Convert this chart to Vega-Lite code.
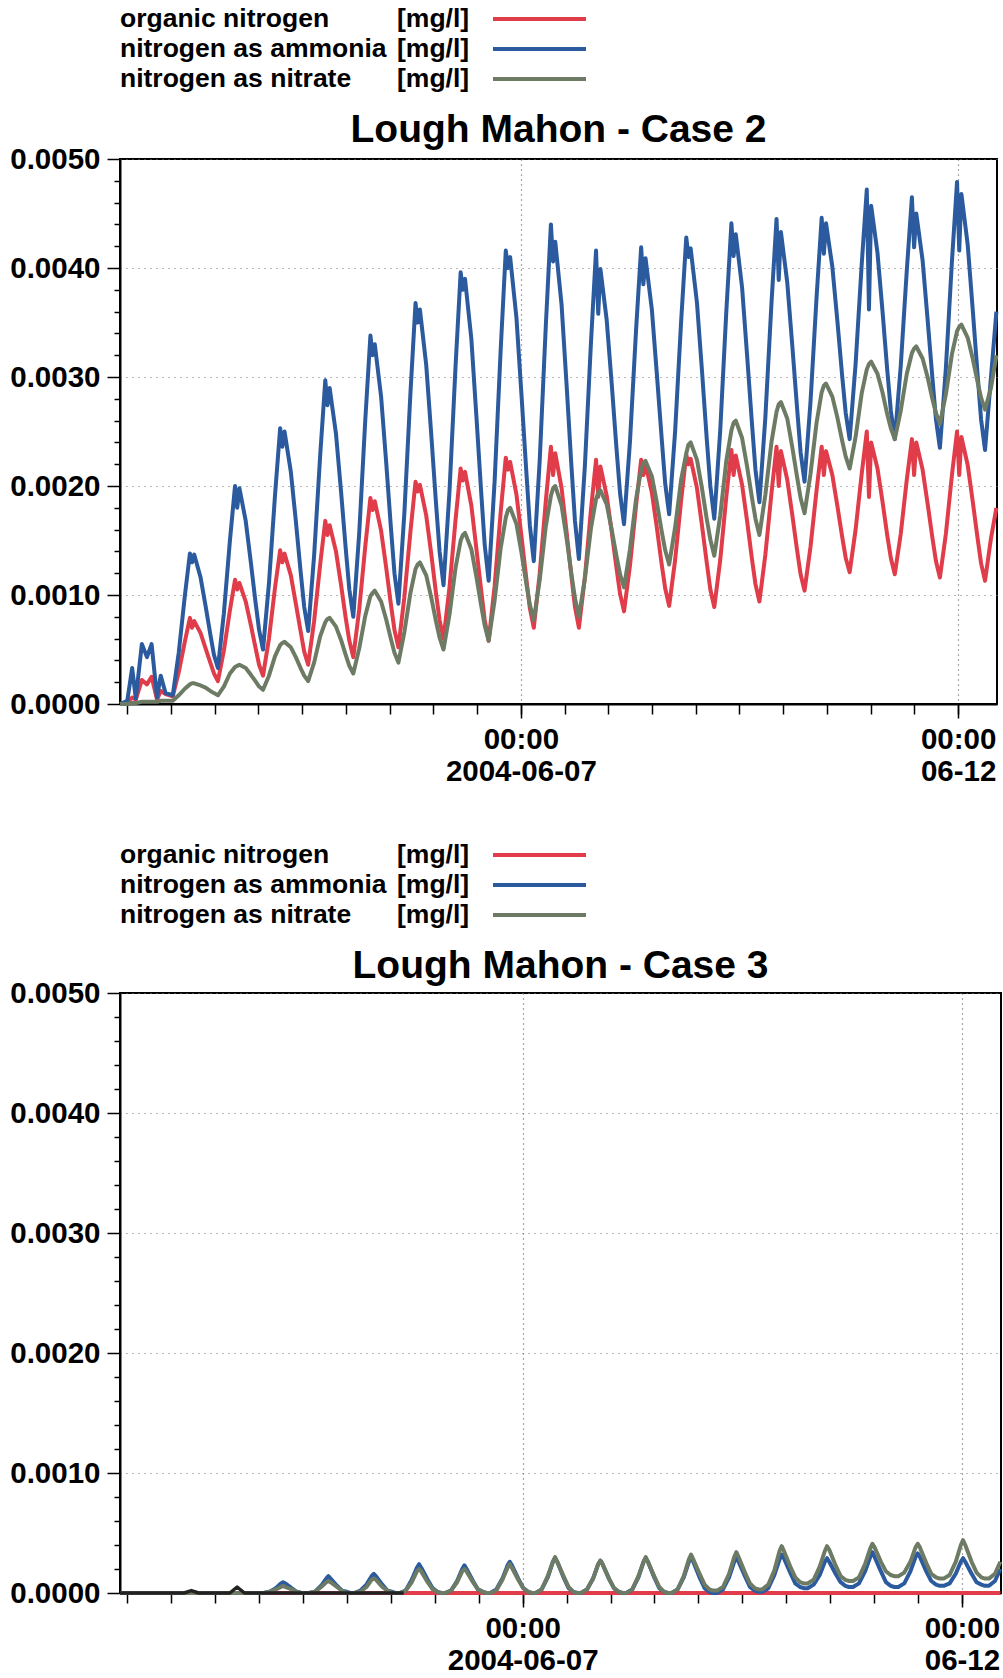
{
"$schema": "https://vega.github.io/schema/vega-lite/v6.json",
"background": "white",
"padding": {"left": 8, "top": 4, "right": 0, "bottom": 0},
"config": {"view": {"stroke": "black", "strokeWidth": 2}, "font": "Liberation Sans"},
"resolve": {"scale": {"color": "independent"}},
"datasets": {
"legend": [
{"series": "organic nitrogen", "unit": "[mg/l]"},
{"series": "nitrogen as ammonia", "unit": "[mg/l]"},
{"series": "nitrogen as nitrate", "unit": "[mg/l]"}
],
"other3": [
{"t":"2004-06-02T10:00","v":0},
{"t":"2004-06-03T03:30","v":0},
{"t":"2004-06-03T05:30","v":0.00002},
{"t":"2004-06-03T07:30","v":0},
{"t":"2004-06-03T16:00","v":0},
{"t":"2004-06-03T18:00","v":0.00005},
{"t":"2004-06-03T20:00","v":0},
{"t":"2004-06-05T15:30","v":0}
],
"tides": [
{"t":"2004-06-02T10:00","o2":0,"a2":0,"n2":0,"o3":0,"a3":0,"n3":0},
{"t":"2004-06-02T12:00","o2":0.00001,"a2":0.00003,"n2":0,"o3":0,"a3":0,"n3":0},
{"t":"2004-06-02T13:20","o2":0.00006,"a2":0.00033,"n2":0.00001,"o3":0,"a3":0,"n3":0},
{"t":"2004-06-02T14:20","o2":0.00004,"a2":0.00005,"n2":0.00001,"o3":0,"a3":0,"n3":0},
{"t":"2004-06-02T16:00","o2":0.00022,"a2":0.00055,"n2":0.00002,"o3":0,"a3":0,"n3":0},
{"t":"2004-06-02T17:24","o2":0.00018,"a2":0.00043,"n2":0.00002,"o3":0,"a3":0,"n3":0},
{"t":"2004-06-02T18:40","o2":0.00025,"a2":0.00055,"n2":0.00002,"o3":0,"a3":0,"n3":0},
{"t":"2004-06-02T20:10","o2":0.00004,"a2":0.00006,"n2":0.00002,"o3":0,"a3":0,"n3":0},
{"t":"2004-06-02T21:10","o2":0.00012,"a2":0.00026,"n2":0.00003,"o3":0,"a3":0,"n3":0},
{"t":"2004-06-02T22:30","o2":0.00009,"a2":0.0001,"n2":0.00003,"o3":0,"a3":0,"n3":0},
{"t":"2004-06-03T00:29","o2":0.00007,"a2":0.00008,"n2":0.00003,"o3":0,"a3":0,"n3":0},
{"t":"2004-06-03T02:07","o2":0.00029,"a2":0.00047,"n2":0.00008,"o3":0,"a3":0,"n3":0},
{"t":"2004-06-03T03:47","o2":0.00057,"a2":0.00099,"n2":0.00014,"o3":0,"a3":0,"n3":0},
{"t":"2004-06-03T05:11","o2":0.00079,"a2":0.00138,"n2":0.00018,"o3":0,"a3":0,"n3":0},
{"t":"2004-06-03T05:47","o2":0.0007,"a2":0.0013,"n2":0.00019,"o3":0,"a3":0,"n3":0},
{"t":"2004-06-03T06:23","o2":0.00076,"a2":0.00137,"n2":0.00019,"o3":0,"a3":0,"n3":0},
{"t":"2004-06-03T08:07","o2":0.00065,"a2":0.00116,"n2":0.00017,"o3":0,"a3":0,"n3":0},
{"t":"2004-06-03T09:29","o2":0.00051,"a2":0.0009,"n2":0.00015,"o3":0,"a3":0,"n3":0},
{"t":"2004-06-03T10:47","o2":0.00038,"a2":0.00064,"n2":0.00012,"o3":0,"a3":0,"n3":0},
{"t":"2004-06-03T11:47","o2":0.00028,"a2":0.00045,"n2":0.0001,"o3":0,"a3":0,"n3":0},
{"t":"2004-06-03T12:52","o2":0.00021,"a2":0.00033,"n2":0.00008,"o3":0,"a3":0,"n3":0},
{"t":"2004-06-03T14:30","o2":0.00049,"a2":0.00083,"n2":0.00016,"o3":0,"a3":0,"n3":0},
{"t":"2004-06-03T16:10","o2":0.00086,"a2":0.0015,"n2":0.00028,"o3":0,"a3":0,"n3":0},
{"t":"2004-06-03T17:34","o2":0.00114,"a2":0.002,"n2":0.00034,"o3":0,"a3":0,"n3":0},
{"t":"2004-06-03T18:10","o2":0.00105,"a2":0.0018,"n2":0.00035,"o3":0,"a3":0,"n3":0},
{"t":"2004-06-03T18:46","o2":0.00111,"a2":0.00198,"n2":0.00036,"o3":0,"a3":0,"n3":0},
{"t":"2004-06-03T20:30","o2":0.00094,"a2":0.00168,"n2":0.00033,"o3":0,"a3":0,"n3":0},
{"t":"2004-06-03T21:52","o2":0.00073,"a2":0.00131,"n2":0.00027,"o3":0,"a3":0,"n3":0},
{"t":"2004-06-03T23:10","o2":0.00052,"a2":0.00094,"n2":0.00021,"o3":0,"a3":0,"n3":0},
{"t":"2004-06-04T00:10","o2":0.00036,"a2":0.00068,"n2":0.00016,"o3":0,"a3":0,"n3":0},
{"t":"2004-06-04T01:15","o2":0.00026,"a2":0.0005,"n2":0.00013,"o3":0,"a3":0,"n3":0},
{"t":"2004-06-04T02:53","o2":0.0006,"a2":0.00111,"n2":0.00026,"o3":0,"a3":0.00001,"n3":0.00001},
{"t":"2004-06-04T04:33","o2":0.00107,"a2":0.00192,"n2":0.00044,"o3":0,"a3":0.00004,"n3":0.00003},
{"t":"2004-06-04T05:57","o2":0.00141,"a2":0.00253,"n2":0.00054,"o3":0,"a3":0.00008,"n3":0.00005},
{"t":"2004-06-04T06:33","o2":0.0013,"a2":0.00236,"n2":0.00056,"o3":0,"a3":0.00009,"n3":0.00006},
{"t":"2004-06-04T07:09","o2":0.00138,"a2":0.0025,"n2":0.00057,"o3":0,"a3":0.00008,"n3":0.00005},
{"t":"2004-06-04T08:53","o2":0.00118,"a2":0.00213,"n2":0.00052,"o3":0,"a3":0.00004,"n3":0.00003},
{"t":"2004-06-04T10:15","o2":0.00092,"a2":0.00168,"n2":0.00043,"o3":0,"a3":0.00001,"n3":0.00001},
{"t":"2004-06-04T11:33","o2":0.00067,"a2":0.00122,"n2":0.00033,"o3":0,"a3":0,"n3":0},
{"t":"2004-06-04T12:33","o2":0.00048,"a2":0.00089,"n2":0.00026,"o3":0,"a3":0,"n3":0},
{"t":"2004-06-04T13:38","o2":0.00036,"a2":0.00067,"n2":0.00021,"o3":0,"a3":0,"n3":0},
{"t":"2004-06-04T15:16","o2":0.00076,"a2":0.00136,"n2":0.00038,"o3":0,"a3":0.00001,"n3":0.00001},
{"t":"2004-06-04T16:56","o2":0.00128,"a2":0.00228,"n2":0.00062,"o3":0,"a3":0.00006,"n3":0.00005},
{"t":"2004-06-04T18:20","o2":0.00168,"a2":0.00297,"n2":0.00075,"o3":0,"a3":0.00012,"n3":0.00009},
{"t":"2004-06-04T18:56","o2":0.00155,"a2":0.00274,"n2":0.00078,"o3":0,"a3":0.00014,"n3":0.0001},
{"t":"2004-06-04T19:32","o2":0.00164,"a2":0.0029,"n2":0.00079,"o3":0,"a3":0.00012,"n3":0.00009},
{"t":"2004-06-04T21:16","o2":0.0014,"a2":0.00248,"n2":0.00071,"o3":0,"a3":0.00006,"n3":0.00005},
{"t":"2004-06-04T22:38","o2":0.0011,"a2":0.00196,"n2":0.00059,"o3":0,"a3":0.00002,"n3":0.00002},
{"t":"2004-06-04T23:56","o2":0.00079,"a2":0.00143,"n2":0.00045,"o3":0,"a3":0.00001,"n3":0},
{"t":"2004-06-05T00:56","o2":0.00058,"a2":0.00105,"n2":0.00035,"o3":0,"a3":0,"n3":0},
{"t":"2004-06-05T02:01","o2":0.00043,"a2":0.0008,"n2":0.00028,"o3":0,"a3":0,"n3":0},
{"t":"2004-06-05T03:39","o2":0.00087,"a2":0.00157,"n2":0.00051,"o3":0,"a3":0.00002,"n3":0.00001},
{"t":"2004-06-05T05:19","o2":0.00145,"a2":0.00261,"n2":0.00081,"o3":0,"a3":0.00007,"n3":0.00005},
{"t":"2004-06-05T06:43","o2":0.00189,"a2":0.00338,"n2":0.00099,"o3":0,"a3":0.00014,"n3":0.00011},
{"t":"2004-06-05T07:19","o2":0.00178,"a2":0.0032,"n2":0.00102,"o3":0,"a3":0.00016,"n3":0.00012},
{"t":"2004-06-05T07:55","o2":0.00186,"a2":0.0033,"n2":0.00104,"o3":0,"a3":0.00014,"n3":0.00011},
{"t":"2004-06-05T09:39","o2":0.00159,"a2":0.00282,"n2":0.00094,"o3":0,"a3":0.00007,"n3":0.00005},
{"t":"2004-06-05T11:01","o2":0.00126,"a2":0.00223,"n2":0.00078,"o3":0,"a3":0.00002,"n3":0.00002},
{"t":"2004-06-05T12:19","o2":0.00092,"a2":0.00163,"n2":0.0006,"o3":0,"a3":0.00001,"n3":0},
{"t":"2004-06-05T13:19","o2":0.00068,"a2":0.0012,"n2":0.00047,"o3":0,"a3":0,"n3":0},
{"t":"2004-06-05T14:24","o2":0.00052,"a2":0.00092,"n2":0.00038,"o3":0,"a3":0,"n3":0},
{"t":"2004-06-05T16:02","o2":0.00098,"a2":0.00175,"n2":0.00066,"o3":0,"a3":0.00002,"n3":0.00002},
{"t":"2004-06-05T17:42","o2":0.00158,"a2":0.00285,"n2":0.00102,"o3":0,"a3":0.00011,"n3":0.00009},
{"t":"2004-06-05T19:06","o2":0.00204,"a2":0.00368,"n2":0.00124,"o3":0,"a3":0.00021,"n3":0.00018},
{"t":"2004-06-05T19:42","o2":0.00195,"a2":0.0035,"n2":0.00128,"o3":0,"a3":0.00024,"n3":0.0002},
{"t":"2004-06-05T20:18","o2":0.00201,"a2":0.00362,"n2":0.0013,"o3":0,"a3":0.00021,"n3":0.00018},
{"t":"2004-06-05T22:02","o2":0.00173,"a2":0.00311,"n2":0.00118,"o3":0,"a3":0.00011,"n3":0.00009},
{"t":"2004-06-05T23:24","o2":0.00138,"a2":0.00248,"n2":0.00098,"o3":0,"a3":0.00004,"n3":0.00003},
{"t":"2004-06-06T00:42","o2":0.00102,"a2":0.00185,"n2":0.00076,"o3":0,"a3":0.00001,"n3":0.00001},
{"t":"2004-06-06T01:42","o2":0.00077,"a2":0.0014,"n2":0.00061,"o3":0,"a3":0,"n3":0},
{"t":"2004-06-06T02:47","o2":0.0006,"a2":0.00109,"n2":0.0005,"o3":0,"a3":0,"n3":0},
{"t":"2004-06-06T04:25","o2":0.00107,"a2":0.00195,"n2":0.00082,"o3":0,"a3":0.00002,"n3":0.00002},
{"t":"2004-06-06T06:05","o2":0.00169,"a2":0.0031,"n2":0.00125,"o3":0,"a3":0.0001,"n3":0.00009},
{"t":"2004-06-06T07:29","o2":0.00216,"a2":0.00396,"n2":0.0015,"o3":0,"a3":0.0002,"n3":0.00018},
{"t":"2004-06-06T08:05","o2":0.00205,"a2":0.0038,"n2":0.00155,"o3":0,"a3":0.00023,"n3":0.0002},
{"t":"2004-06-06T08:41","o2":0.00213,"a2":0.0039,"n2":0.00157,"o3":0,"a3":0.0002,"n3":0.00018},
{"t":"2004-06-06T10:25","o2":0.00182,"a2":0.00335,"n2":0.00142,"o3":0,"a3":0.0001,"n3":0.00009},
{"t":"2004-06-06T11:47","o2":0.00143,"a2":0.00265,"n2":0.00117,"o3":0,"a3":0.00003,"n3":0.00003},
{"t":"2004-06-06T13:05","o2":0.00105,"a2":0.00196,"n2":0.00091,"o3":0,"a3":0.00001,"n3":0.00001},
{"t":"2004-06-06T14:05","o2":0.00077,"a2":0.00146,"n2":0.00072,"o3":0,"a3":0,"n3":0},
{"t":"2004-06-06T15:10","o2":0.00058,"a2":0.00113,"n2":0.00058,"o3":0,"a3":0,"n3":0},
{"t":"2004-06-06T16:48","o2":0.00108,"a2":0.00204,"n2":0.00095,"o3":0,"a3":0.00003,"n3":0.00002},
{"t":"2004-06-06T18:28","o2":0.00176,"a2":0.00325,"n2":0.00143,"o3":0,"a3":0.00012,"n3":0.00011},
{"t":"2004-06-06T19:52","o2":0.00226,"a2":0.00416,"n2":0.00171,"o3":0,"a3":0.00023,"n3":0.00021},
{"t":"2004-06-06T20:28","o2":0.00215,"a2":0.004,"n2":0.00178,"o3":0,"a3":0.00026,"n3":0.00024},
{"t":"2004-06-06T21:04","o2":0.00222,"a2":0.0041,"n2":0.0018,"o3":0,"a3":0.00023,"n3":0.00021},
{"t":"2004-06-06T22:48","o2":0.00192,"a2":0.00354,"n2":0.00165,"o3":0,"a3":0.00012,"n3":0.00011},
{"t":"2004-06-07T00:10","o2":0.00154,"a2":0.00284,"n2":0.00139,"o3":0,"a3":0.00004,"n3":0.00004},
{"t":"2004-06-07T01:28","o2":0.00116,"a2":0.00215,"n2":0.00111,"o3":0,"a3":0.00001,"n3":0.00001},
{"t":"2004-06-07T02:28","o2":0.00088,"a2":0.00164,"n2":0.00091,"o3":0,"a3":0,"n3":0},
{"t":"2004-06-07T03:33","o2":0.0007,"a2":0.00131,"n2":0.00077,"o3":0,"a3":0,"n3":0},
{"t":"2004-06-07T05:11","o2":0.0012,"a2":0.00224,"n2":0.00114,"o3":0,"a3":0.00003,"n3":0.00003},
{"t":"2004-06-07T06:51","o2":0.00186,"a2":0.00347,"n2":0.00163,"o3":0,"a3":0.00013,"n3":0.00014},
{"t":"2004-06-07T08:15","o2":0.00236,"a2":0.0044,"n2":0.00191,"o3":0,"a3":0.00026,"n3":0.00026},
{"t":"2004-06-07T08:51","o2":0.0021,"a2":0.00406,"n2":0.00198,"o3":0,"a3":0.00029,"n3":0.0003},
{"t":"2004-06-07T09:27","o2":0.0023,"a2":0.00424,"n2":0.002,"o3":0,"a3":0.00026,"n3":0.00026},
{"t":"2004-06-07T11:11","o2":0.00198,"a2":0.00366,"n2":0.00182,"o3":0,"a3":0.00013,"n3":0.00014},
{"t":"2004-06-07T12:33","o2":0.00158,"a2":0.00293,"n2":0.00152,"o3":0,"a3":0.00004,"n3":0.00005},
{"t":"2004-06-07T13:51","o2":0.00118,"a2":0.0022,"n2":0.0012,"o3":0,"a3":0.00001,"n3":0.00001},
{"t":"2004-06-07T14:51","o2":0.00089,"a2":0.00168,"n2":0.00097,"o3":0,"a3":0,"n3":0},
{"t":"2004-06-07T15:56","o2":0.0007,"a2":0.00133,"n2":0.0008,"o3":0,"a3":0,"n3":0},
{"t":"2004-06-07T17:34","o2":0.00116,"a2":0.00218,"n2":0.00115,"o3":0,"a3":0.00003,"n3":0.00003},
{"t":"2004-06-07T19:14","o2":0.00178,"a2":0.00331,"n2":0.00161,"o3":0,"a3":0.00012,"n3":0.00012},
{"t":"2004-06-07T20:38","o2":0.00224,"a2":0.00416,"n2":0.00188,"o3":0,"a3":0.00024,"n3":0.00024},
{"t":"2004-06-07T21:14","o2":0.0019,"a2":0.00358,"n2":0.00194,"o3":0,"a3":0.00027,"n3":0.00027},
{"t":"2004-06-07T21:50","o2":0.00218,"a2":0.00399,"n2":0.00196,"o3":0,"a3":0.00024,"n3":0.00024},
{"t":"2004-06-07T23:34","o2":0.00191,"a2":0.00352,"n2":0.00183,"o3":0,"a3":0.00012,"n3":0.00012},
{"t":"2004-06-08T00:56","o2":0.00158,"a2":0.00294,"n2":0.0016,"o3":0,"a3":0.00004,"n3":0.00004},
{"t":"2004-06-08T02:14","o2":0.00125,"a2":0.00235,"n2":0.00136,"o3":0,"a3":0.00001,"n3":0.00001},
{"t":"2004-06-08T03:14","o2":0.00101,"a2":0.00193,"n2":0.00119,"o3":0,"a3":0,"n3":0},
{"t":"2004-06-08T04:19","o2":0.00085,"a2":0.00165,"n2":0.00107,"o3":0,"a3":0,"n3":0},
{"t":"2004-06-08T05:57","o2":0.00127,"a2":0.00241,"n2":0.00142,"o3":0,"a3":0.00003,"n3":0.00003},
{"t":"2004-06-08T07:37","o2":0.00182,"a2":0.00343,"n2":0.00188,"o3":0,"a3":0.00013,"n3":0.00014},
{"t":"2004-06-08T09:01","o2":0.00224,"a2":0.00419,"n2":0.00215,"o3":0,"a3":0.00026,"n3":0.00026},
{"t":"2004-06-08T09:37","o2":0.0021,"a2":0.00385,"n2":0.00221,"o3":0,"a3":0.00029,"n3":0.0003},
{"t":"2004-06-08T10:13","o2":0.0022,"a2":0.00409,"n2":0.00223,"o3":0,"a3":0.00026,"n3":0.00026},
{"t":"2004-06-08T11:57","o2":0.00194,"a2":0.00362,"n2":0.00209,"o3":0,"a3":0.00013,"n3":0.00014},
{"t":"2004-06-08T13:19","o2":0.00162,"a2":0.00303,"n2":0.00185,"o3":0,"a3":0.00004,"n3":0.00005},
{"t":"2004-06-08T14:37","o2":0.00129,"a2":0.00245,"n2":0.00159,"o3":0,"a3":0.00001,"n3":0.00001},
{"t":"2004-06-08T15:37","o2":0.00106,"a2":0.00202,"n2":0.00141,"o3":0,"a3":0,"n3":0},
{"t":"2004-06-08T16:42","o2":0.0009,"a2":0.00174,"n2":0.00128,"o3":0,"a3":0,"n3":0},
{"t":"2004-06-08T18:20","o2":0.00132,"a2":0.0025,"n2":0.00162,"o3":0,"a3":0.00003,"n3":0.00003},
{"t":"2004-06-08T20:00","o2":0.00187,"a2":0.00352,"n2":0.00206,"o3":0,"a3":0.00013,"n3":0.00014},
{"t":"2004-06-08T21:24","o2":0.00229,"a2":0.00428,"n2":0.0023,"o3":0,"a3":0.00026,"n3":0.00028},
{"t":"2004-06-08T22:00","o2":0.0022,"a2":0.0041,"n2":0.00238,"o3":0,"a3":0.00029,"n3":0.00032},
{"t":"2004-06-08T22:36","o2":0.00225,"a2":0.00418,"n2":0.0024,"o3":0,"a3":0.00026,"n3":0.00028},
{"t":"2004-06-09T00:20","o2":0.00198,"a2":0.00368,"n2":0.00224,"o3":0,"a3":0.00013,"n3":0.00016},
{"t":"2004-06-09T01:42","o2":0.00164,"a2":0.00306,"n2":0.00198,"o3":0,"a3":0.00004,"n3":0.00007},
{"t":"2004-06-09T03:00","o2":0.0013,"a2":0.00244,"n2":0.0017,"o3":0,"a3":0.00001,"n3":0.00003},
{"t":"2004-06-09T04:00","o2":0.00105,"a2":0.002,"n2":0.00151,"o3":0,"a3":0,"n3":0.00002},
{"t":"2004-06-09T05:05","o2":0.00089,"a2":0.0017,"n2":0.00136,"o3":0,"a3":0,"n3":0.00002},
{"t":"2004-06-09T06:43","o2":0.00132,"a2":0.00251,"n2":0.00173,"o3":0,"a3":0.00003,"n3":0.00005},
{"t":"2004-06-09T08:23","o2":0.0019,"a2":0.0036,"n2":0.00223,"o3":0,"a3":0.00013,"n3":0.00016},
{"t":"2004-06-09T09:47","o2":0.00233,"a2":0.00441,"n2":0.00251,"o3":0,"a3":0.00026,"n3":0.0003},
{"t":"2004-06-09T10:23","o2":0.0021,"a2":0.00411,"n2":0.00258,"o3":0,"a3":0.00029,"n3":0.00034},
{"t":"2004-06-09T10:59","o2":0.00228,"a2":0.00431,"n2":0.0026,"o3":0,"a3":0.00026,"n3":0.0003},
{"t":"2004-06-09T12:43","o2":0.00201,"a2":0.00382,"n2":0.00244,"o3":0,"a3":0.00014,"n3":0.00017},
{"t":"2004-06-09T14:05","o2":0.00168,"a2":0.0032,"n2":0.00218,"o3":0,"a3":0.00005,"n3":0.00008},
{"t":"2004-06-09T15:23","o2":0.00134,"a2":0.00259,"n2":0.0019,"o3":0,"a3":0.00002,"n3":0.00004},
{"t":"2004-06-09T16:23","o2":0.0011,"a2":0.00215,"n2":0.0017,"o3":0,"a3":0.00001,"n3":0.00003},
{"t":"2004-06-09T17:28","o2":0.00094,"a2":0.00185,"n2":0.00155,"o3":0,"a3":0.00001,"n3":0.00003},
{"t":"2004-06-09T19:06","o2":0.00137,"a2":0.00263,"n2":0.00192,"o3":0,"a3":0.00004,"n3":0.00007},
{"t":"2004-06-09T20:46","o2":0.00193,"a2":0.00367,"n2":0.0024,"o3":0,"a3":0.00015,"n3":0.00019},
{"t":"2004-06-09T22:10","o2":0.00236,"a2":0.00445,"n2":0.00268,"o3":0,"a3":0.00028,"n3":0.00035},
{"t":"2004-06-09T22:46","o2":0.002,"a2":0.00389,"n2":0.00275,"o3":0,"a3":0.00032,"n3":0.00039},
{"t":"2004-06-09T23:22","o2":0.00232,"a2":0.00433,"n2":0.00277,"o3":0,"a3":0.00029,"n3":0.00035},
{"t":"2004-06-10T01:06","o2":0.00206,"a2":0.00387,"n2":0.00262,"o3":0,"a3":0.00017,"n3":0.00022},
{"t":"2004-06-10T02:28","o2":0.00174,"a2":0.0033,"n2":0.00236,"o3":0,"a3":0.00008,"n3":0.00013},
{"t":"2004-06-10T03:46","o2":0.00142,"a2":0.00273,"n2":0.00209,"o3":0,"a3":0.00005,"n3":0.00009},
{"t":"2004-06-10T04:46","o2":0.00119,"a2":0.00231,"n2":0.00189,"o3":0,"a3":0.00004,"n3":0.00008},
{"t":"2004-06-10T05:51","o2":0.00104,"a2":0.00204,"n2":0.00175,"o3":0,"a3":0.00004,"n3":0.00008},
{"t":"2004-06-10T07:29","o2":0.00144,"a2":0.00277,"n2":0.00211,"o3":0,"a3":0.00007,"n3":0.00011},
{"t":"2004-06-10T09:09","o2":0.00196,"a2":0.00373,"n2":0.00258,"o3":0,"a3":0.00015,"n3":0.00022},
{"t":"2004-06-10T10:33","o2":0.00236,"a2":0.00446,"n2":0.00286,"o3":0,"a3":0.00026,"n3":0.00035},
{"t":"2004-06-10T11:09","o2":0.0021,"a2":0.00413,"n2":0.00292,"o3":0,"a3":0.00029,"n3":0.00039},
{"t":"2004-06-10T11:45","o2":0.00232,"a2":0.00441,"n2":0.00294,"o3":0,"a3":0.00026,"n3":0.00036},
{"t":"2004-06-10T13:29","o2":0.0021,"a2":0.00401,"n2":0.00282,"o3":0,"a3":0.00016,"n3":0.00023},
{"t":"2004-06-10T14:51","o2":0.00182,"a2":0.00352,"n2":0.00263,"o3":0,"a3":0.00009,"n3":0.00014},
{"t":"2004-06-10T16:09","o2":0.00154,"a2":0.00302,"n2":0.00242,"o3":0,"a3":0.00006,"n3":0.00011},
{"t":"2004-06-10T17:09","o2":0.00134,"a2":0.00267,"n2":0.00227,"o3":0,"a3":0.00005,"n3":0.0001},
{"t":"2004-06-10T18:14","o2":0.00121,"a2":0.00243,"n2":0.00216,"o3":0,"a3":0.00005,"n3":0.0001},
{"t":"2004-06-10T19:52","o2":0.0016,"a2":0.00312,"n2":0.00245,"o3":0,"a3":0.00008,"n3":0.00013},
{"t":"2004-06-10T21:32","o2":0.00211,"a2":0.00403,"n2":0.00285,"o3":0,"a3":0.00018,"n3":0.00024},
{"t":"2004-06-10T22:56","o2":0.0025,"a2":0.00472,"n2":0.00307,"o3":0,"a3":0.0003,"n3":0.00037},
{"t":"2004-06-10T23:32","o2":0.0019,"a2":0.00362,"n2":0.00312,"o3":0,"a3":0.00034,"n3":0.00041},
{"t":"2004-06-11T00:08","o2":0.0024,"a2":0.00457,"n2":0.00314,"o3":0,"a3":0.0003,"n3":0.00038},
{"t":"2004-06-11T01:52","o2":0.00216,"a2":0.00414,"n2":0.00303,"o3":0,"a3":0.00018,"n3":0.00026},
{"t":"2004-06-11T03:14","o2":0.00186,"a2":0.00361,"n2":0.00286,"o3":0,"a3":0.00009,"n3":0.00018},
{"t":"2004-06-11T04:32","o2":0.00155,"a2":0.00307,"n2":0.00266,"o3":0,"a3":0.00006,"n3":0.00015},
{"t":"2004-06-11T05:32","o2":0.00134,"a2":0.00269,"n2":0.00253,"o3":0,"a3":0.00005,"n3":0.00014},
{"t":"2004-06-11T06:37","o2":0.00119,"a2":0.00243,"n2":0.00243,"o3":0,"a3":0.00005,"n3":0.00014},
{"t":"2004-06-11T08:15","o2":0.00156,"a2":0.0031,"n2":0.00269,"o3":0,"a3":0.00008,"n3":0.00017},
{"t":"2004-06-11T09:55","o2":0.00206,"a2":0.00398,"n2":0.00303,"o3":0,"a3":0.00018,"n3":0.00026},
{"t":"2004-06-11T11:19","o2":0.00243,"a2":0.00465,"n2":0.00322,"o3":0,"a3":0.0003,"n3":0.00038},
{"t":"2004-06-11T11:55","o2":0.0021,"a2":0.00419,"n2":0.00326,"o3":0,"a3":0.00033,"n3":0.00041},
{"t":"2004-06-11T12:31","o2":0.0024,"a2":0.0045,"n2":0.00328,"o3":0,"a3":0.0003,"n3":0.00038},
{"t":"2004-06-11T14:15","o2":0.00215,"a2":0.00407,"n2":0.00317,"o3":0,"a3":0.00018,"n3":0.00025},
{"t":"2004-06-11T15:37","o2":0.00184,"a2":0.00353,"n2":0.003,"o3":0,"a3":0.0001,"n3":0.00016},
{"t":"2004-06-11T16:55","o2":0.00153,"a2":0.003,"n2":0.0028,"o3":0,"a3":0.00007,"n3":0.00013},
{"t":"2004-06-11T17:55","o2":0.00131,"a2":0.00261,"n2":0.00267,"o3":0,"a3":0.00006,"n3":0.00012},
{"t":"2004-06-11T19:00","o2":0.00116,"a2":0.00235,"n2":0.00257,"o3":0,"a3":0.00006,"n3":0.00012},
{"t":"2004-06-11T20:38","o2":0.00156,"a2":0.00308,"n2":0.00284,"o3":0,"a3":0.00008,"n3":0.00015},
{"t":"2004-06-11T22:18","o2":0.0021,"a2":0.00406,"n2":0.00321,"o3":0,"a3":0.00016,"n3":0.00026},
{"t":"2004-06-11T23:42","o2":0.0025,"a2":0.00479,"n2":0.00342,"o3":0,"a3":0.00026,"n3":0.0004},
{"t":"2004-06-12T00:18","o2":0.0021,"a2":0.00416,"n2":0.00346,"o3":0,"a3":0.00029,"n3":0.00044},
{"t":"2004-06-12T00:54","o2":0.00245,"a2":0.00468,"n2":0.00348,"o3":0,"a3":0.00026,"n3":0.0004},
{"t":"2004-06-12T02:38","o2":0.00219,"a2":0.00421,"n2":0.00336,"o3":0,"a3":0.00016,"n3":0.00026},
{"t":"2004-06-12T04:00","o2":0.00186,"a2":0.00362,"n2":0.00317,"o3":0,"a3":0.00009,"n3":0.00017},
{"t":"2004-06-12T05:18","o2":0.00153,"a2":0.00304,"n2":0.00296,"o3":0,"a3":0.00007,"n3":0.00013},
{"t":"2004-06-12T06:18","o2":0.00129,"a2":0.00261,"n2":0.00281,"o3":0,"a3":0.00006,"n3":0.00012},
{"t":"2004-06-12T07:23","o2":0.00113,"a2":0.00233,"n2":0.0027,"o3":0,"a3":0.00006,"n3":0.00012},
{"t":"2004-06-12T09:01","o2":0.00152,"a2":0.003,"n2":0.0029,"o3":0,"a3":0.0001,"n3":0.00016},
{"t":"2004-06-12T10:30","o2":0.0018,"a2":0.0036,"n2":0.0032,"o3":0,"a3":0.0002,"n3":0.00026}
]
},
"spacing": 53,
"vconcat": [
{
"spacing": 16,
"resolve": {"scale": {"color": "independent"}},
"vconcat": [
{
"width": 877, "height": 90,
"data": {"name": "legend"},
"view": {"stroke": null},
"encoding": {"y": {"field": "series", "type": "nominal", "sort": null, "scale": {"type": "point", "padding": 0.5}, "axis": null}},
"layer": [
{"mark": {"type": "text", "align": "left", "baseline": "middle", "fontSize": 26.5, "fontWeight": "bold", "font": "Liberation Sans", "color": "black"},
 "encoding": {"x": {"datum": 0, "type": "quantitative", "scale": {"domain": [0, 877], "nice": false, "zero": false}, "axis": null}, "text": {"field": "series"}}},
{"mark": {"type": "text", "align": "left", "baseline": "middle", "fontSize": 26.5, "fontWeight": "bold", "font": "Liberation Sans", "color": "black"},
 "encoding": {"x": {"datum": 277, "type": "quantitative"}, "text": {"field": "unit"}}},
{"mark": {"type": "rule", "strokeWidth": 4},
 "encoding": {"x": {"datum": 373, "type": "quantitative"}, "x2": {"datum": 466}, "color": {"field": "series", "type": "nominal", "scale": {"domain": ["organic nitrogen", "nitrogen as ammonia", "nitrogen as nitrate"], "range": ["#e03c4a", "#2b5b9e", "#6e7b64"]}, "legend": null}}}
]
},
{
"width": 877, "height": 545,
"title": {"text": "Lough Mahon - Case 2", "fontSize": 39, "fontWeight": "bold", "font": "Liberation Sans", "color": "black", "anchor": "middle", "frame": "group", "offset": -6},
"data": {"name": "tides"},
"resolve": {"axis": {"x": "independent", "y": "independent"}},
"layer": [
{
"transform": [{"fold": ["o2", "a2"], "as": ["key", "value"]}],
"mark": {"type": "line", "strokeWidth": 4, "strokeJoin": "round"},
"encoding": {
"x": {"field": "t", "type": "temporal",
 "scale": {"domain": [{"year": 2004, "month": 6, "date": 2, "hours": 10}, {"year": 2004, "month": 6, "date": 12, "hours": 10, "minutes": 40}]},
 "axis": {"title": null, "orient": "bottom", "grid": false,
  "values": [{"year":2004,"month":6,"date":2,"hours":12},{"year":2004,"month":6,"date":3,"hours":0},{"year":2004,"month":6,"date":3,"hours":12},{"year":2004,"month":6,"date":4,"hours":0},{"year":2004,"month":6,"date":4,"hours":12},{"year":2004,"month":6,"date":5,"hours":0},{"year":2004,"month":6,"date":5,"hours":12},{"year":2004,"month":6,"date":6,"hours":0},{"year":2004,"month":6,"date":6,"hours":12},{"year":2004,"month":6,"date":7,"hours":0},{"year":2004,"month":6,"date":7,"hours":12},{"year":2004,"month":6,"date":8,"hours":0},{"year":2004,"month":6,"date":8,"hours":12},{"year":2004,"month":6,"date":9,"hours":0},{"year":2004,"month":6,"date":9,"hours":12},{"year":2004,"month":6,"date":10,"hours":0},{"year":2004,"month":6,"date":10,"hours":12},{"year":2004,"month":6,"date":11,"hours":0},{"year":2004,"month":6,"date":11,"hours":12},{"year":2004,"month":6,"date":12,"hours":0}],
  "labelExpr": "hours(datum.value) == 0 && (date(datum.value) == 7 || date(datum.value) == 12) ? '00:00' : ''",
  "labelOverlap": false, "labelFlush": false,
  "labelFont": "Liberation Sans", "labelFontSize": 29.5, "labelFontWeight": "bold", "labelColor": "black", "labelPadding": 11,
  "tickColor": "black", "tickWidth": 1.5, "tickSize": 10, "domainColor": "black", "domainWidth": 2}},
"y": {"field": "value", "type": "quantitative", "scale": {"domain": [0, 0.005]},
 "axis": {"title": null, "orient": "left", "values": [0, 0.001, 0.002, 0.003, 0.004, 0.005], "format": ".4f",
  "labelOverlap": false, "labelFlush": false,
  "labelFont": "Liberation Sans", "labelFontSize": 29.5, "labelFontWeight": "bold", "labelColor": "black", "labelPadding": 7,
  "tickColor": "black", "tickWidth": 1.5, "tickSize": 13, "domainColor": "black", "domainWidth": 2,
  "grid": true, "gridColor": "#777", "gridDash": [1, 5], "gridWidth": 1.2}},
"color": {"field": "key", "type": "nominal", "scale": {"domain": ["o2", "a2"], "range": ["#e03c4a", "#2b5b9e"]}, "legend": null}
}
},
{
"mark": {"type": "line", "strokeWidth": 4, "strokeJoin": "round", "color": "#6e7b64"},
"encoding": {
"x": {"field": "t", "type": "temporal",
 "axis": {"title": null, "orient": "bottom", "domain": false,
  "values": [{"year":2004,"month":6,"date":7,"hours":0},{"year":2004,"month":6,"date":12,"hours":0}],
  "labelExpr": "date(datum.value) == 7 ? '2004-06-07' : '06-12'",
  "labelOverlap": false, "labelFlush": false,
  "labelFont": "Liberation Sans", "labelFontSize": 29.5, "labelFontWeight": "bold", "labelColor": "black", "labelPadding": 39,
  "tickColor": "black", "tickWidth": 1.5, "tickSize": 14,
  "grid": true, "gridColor": "#555", "gridDash": [1, 4], "gridWidth": 1.2}},
"y": {"field": "n2", "type": "quantitative",
 "axis": {"title": null, "orient": "left", "domain": false, "labels": false, "grid": false,
  "values": [0.0002,0.0004,0.0006,0.0008,0.0012,0.0014,0.0016,0.0018,0.0022,0.0024,0.0026,0.0028,0.0032,0.0034,0.0036,0.0038,0.0042,0.0044,0.0046,0.0048],
  "tickColor": "black", "tickWidth": 1.5, "tickSize": 6}}
}
}
]
}
]
},
{
"spacing": 16,
"resolve": {"scale": {"color": "independent"}},
"vconcat": [
{
"width": 877, "height": 90,
"data": {"name": "legend"},
"view": {"stroke": null},
"encoding": {"y": {"field": "series", "type": "nominal", "sort": null, "scale": {"type": "point", "padding": 0.5}, "axis": null}},
"layer": [
{"mark": {"type": "text", "align": "left", "baseline": "middle", "fontSize": 26.5, "fontWeight": "bold", "font": "Liberation Sans", "color": "black"},
 "encoding": {"x": {"datum": 0, "type": "quantitative", "scale": {"domain": [0, 877], "nice": false, "zero": false}, "axis": null}, "text": {"field": "series"}}},
{"mark": {"type": "text", "align": "left", "baseline": "middle", "fontSize": 26.5, "fontWeight": "bold", "font": "Liberation Sans", "color": "black"},
 "encoding": {"x": {"datum": 277, "type": "quantitative"}, "text": {"field": "unit"}}},
{"mark": {"type": "rule", "strokeWidth": 4},
 "encoding": {"x": {"datum": 373, "type": "quantitative"}, "x2": {"datum": 466}, "color": {"field": "series", "type": "nominal", "scale": {"domain": ["organic nitrogen", "nitrogen as ammonia", "nitrogen as nitrate"], "range": ["#e03c4a", "#2b5b9e", "#6e7b64"]}, "legend": null}}}
]
},
{
"width": 881, "height": 600,
"title": {"text": "Lough Mahon - Case 3", "fontSize": 39, "fontWeight": "bold", "font": "Liberation Sans", "color": "black", "anchor": "middle", "frame": "group", "offset": -8},
"data": {"name": "tides"},
"resolve": {"axis": {"x": "independent", "y": "independent"}},
"layer": [
{
"transform": [{"fold": ["o3", "a3"], "as": ["key", "value"]}],
"mark": {"type": "line", "strokeWidth": 4, "strokeJoin": "round"},
"encoding": {
"x": {"field": "t", "type": "temporal",
 "scale": {"domain": [{"year": 2004, "month": 6, "date": 2, "hours": 10}, {"year": 2004, "month": 6, "date": 12, "hours": 10, "minutes": 40}]},
 "axis": {"title": null, "orient": "bottom", "grid": false,
  "values": [{"year":2004,"month":6,"date":2,"hours":12},{"year":2004,"month":6,"date":3,"hours":0},{"year":2004,"month":6,"date":3,"hours":12},{"year":2004,"month":6,"date":4,"hours":0},{"year":2004,"month":6,"date":4,"hours":12},{"year":2004,"month":6,"date":5,"hours":0},{"year":2004,"month":6,"date":5,"hours":12},{"year":2004,"month":6,"date":6,"hours":0},{"year":2004,"month":6,"date":6,"hours":12},{"year":2004,"month":6,"date":7,"hours":0},{"year":2004,"month":6,"date":7,"hours":12},{"year":2004,"month":6,"date":8,"hours":0},{"year":2004,"month":6,"date":8,"hours":12},{"year":2004,"month":6,"date":9,"hours":0},{"year":2004,"month":6,"date":9,"hours":12},{"year":2004,"month":6,"date":10,"hours":0},{"year":2004,"month":6,"date":10,"hours":12},{"year":2004,"month":6,"date":11,"hours":0},{"year":2004,"month":6,"date":11,"hours":12},{"year":2004,"month":6,"date":12,"hours":0}],
  "labelExpr": "hours(datum.value) == 0 && (date(datum.value) == 7 || date(datum.value) == 12) ? '00:00' : ''",
  "labelOverlap": false, "labelFlush": false,
  "labelFont": "Liberation Sans", "labelFontSize": 29.5, "labelFontWeight": "bold", "labelColor": "black", "labelPadding": 11,
  "tickColor": "black", "tickWidth": 1.5, "tickSize": 10, "domainColor": "black", "domainWidth": 2}},
"y": {"field": "value", "type": "quantitative", "scale": {"domain": [0, 0.005]},
 "axis": {"title": null, "orient": "left", "values": [0, 0.001, 0.002, 0.003, 0.004, 0.005], "format": ".4f",
  "labelOverlap": false, "labelFlush": false,
  "labelFont": "Liberation Sans", "labelFontSize": 29.5, "labelFontWeight": "bold", "labelColor": "black", "labelPadding": 7,
  "tickColor": "black", "tickWidth": 1.5, "tickSize": 13, "domainColor": "black", "domainWidth": 2,
  "grid": true, "gridColor": "#777", "gridDash": [1, 5], "gridWidth": 1.2}},
"color": {"field": "key", "type": "nominal", "scale": {"domain": ["o3", "a3"], "range": ["#e03c4a", "#2b5b9e"]}, "legend": null}
}
},
{
"mark": {"type": "line", "strokeWidth": 4, "strokeJoin": "round", "color": "#6e7b64"},
"encoding": {
"x": {"field": "t", "type": "temporal",
 "axis": {"title": null, "orient": "bottom", "domain": false,
  "values": [{"year":2004,"month":6,"date":7,"hours":0},{"year":2004,"month":6,"date":12,"hours":0}],
  "labelExpr": "date(datum.value) == 7 ? '2004-06-07' : '06-12'",
  "labelOverlap": false, "labelFlush": false,
  "labelFont": "Liberation Sans", "labelFontSize": 29.5, "labelFontWeight": "bold", "labelColor": "black", "labelPadding": 39,
  "tickColor": "black", "tickWidth": 1.5, "tickSize": 14,
  "grid": true, "gridColor": "#555", "gridDash": [1, 4], "gridWidth": 1.2}},
"y": {"field": "n3", "type": "quantitative",
 "axis": {"title": null, "orient": "left", "domain": false, "labels": false, "grid": false,
  "values": [0.0002,0.0004,0.0006,0.0008,0.0012,0.0014,0.0016,0.0018,0.0022,0.0024,0.0026,0.0028,0.0032,0.0034,0.0036,0.0038,0.0042,0.0044,0.0046,0.0048],
  "tickColor": "black", "tickWidth": 1.5, "tickSize": 6}}
}
},
{
"data": {"name": "other3"},
"mark": {"type": "line", "strokeWidth": 3.5, "strokeJoin": "round", "color": "#222222"},
"encoding": {
"x": {"field": "t", "type": "temporal", "axis": null},
"y": {"field": "v", "type": "quantitative", "axis": null}
}
}
]
}
]
}
]
}
